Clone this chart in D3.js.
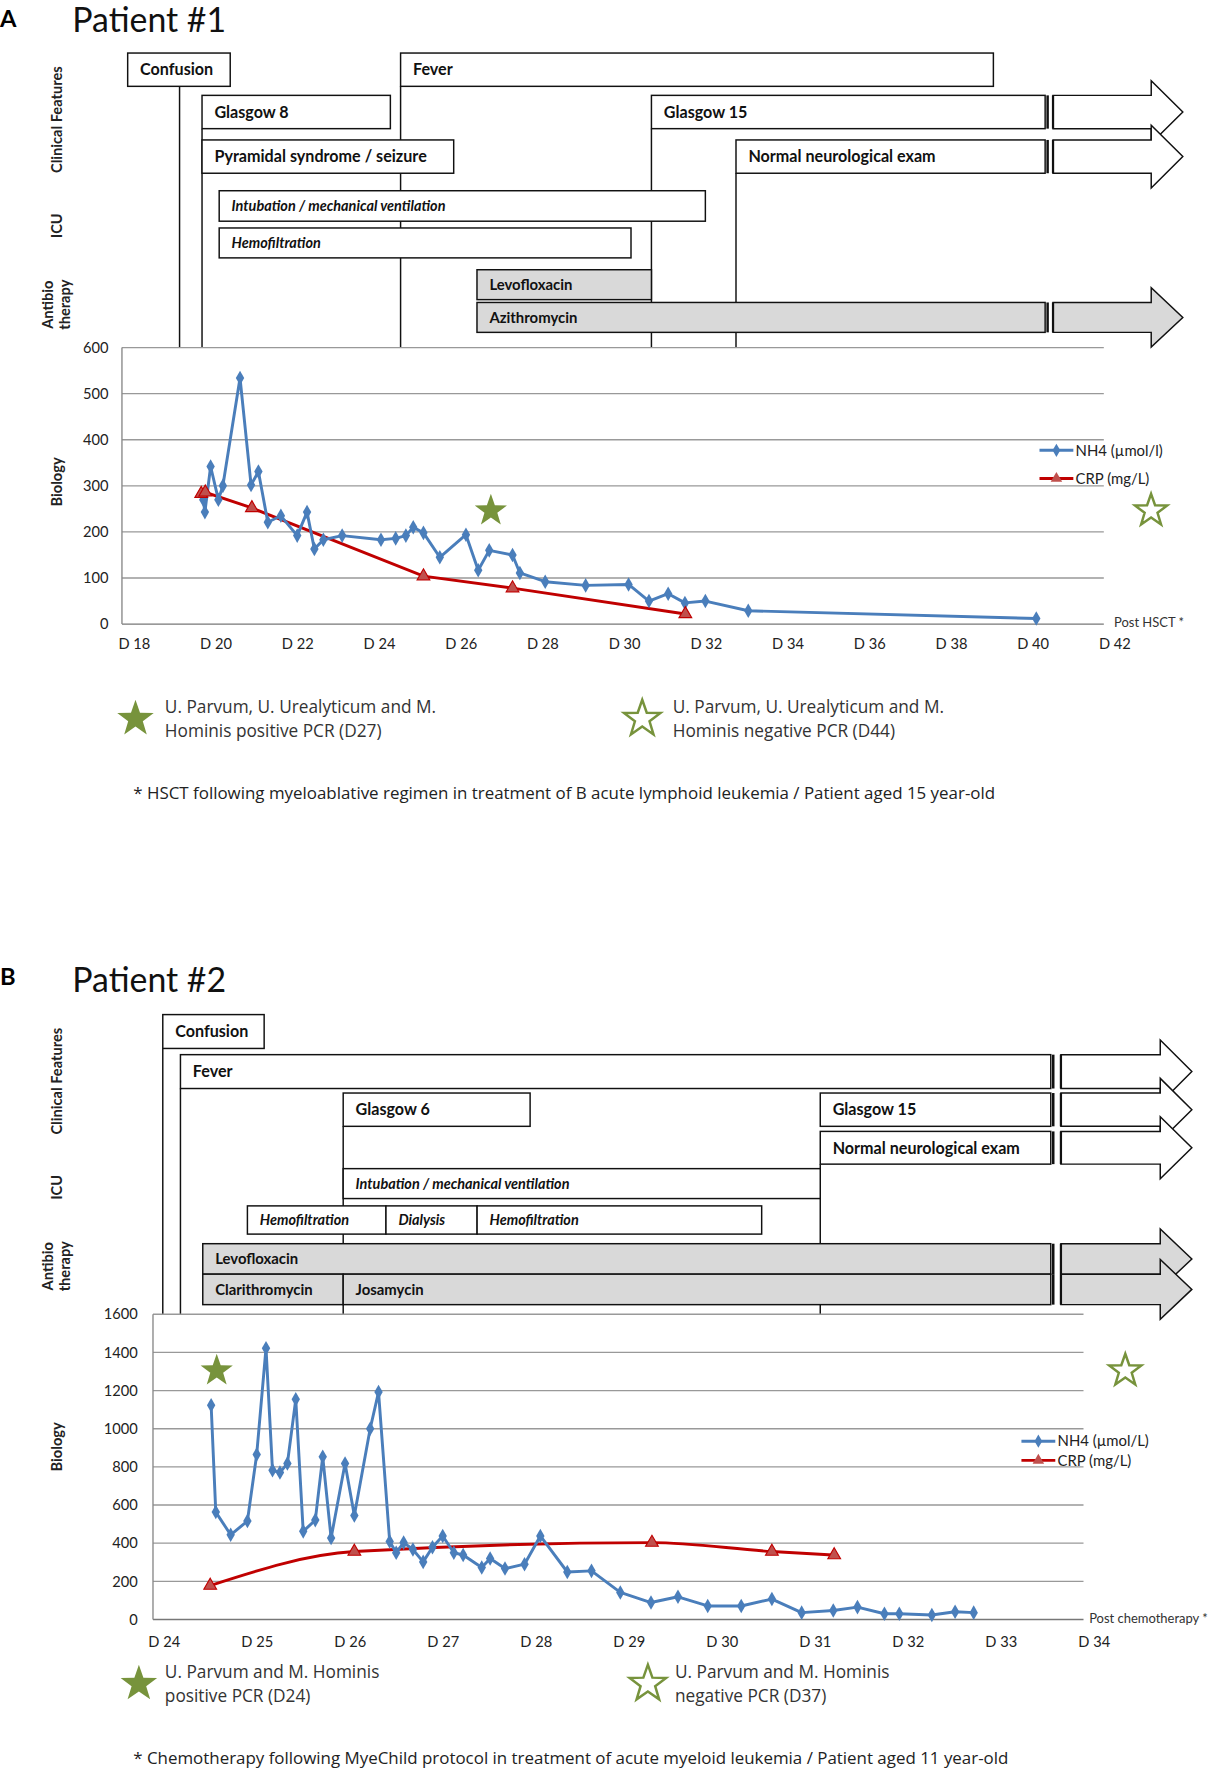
<!DOCTYPE html>
<html><head><meta charset="utf-8">
<script src="https://cdn.jsdelivr.net/npm/d3@7/dist/d3.min.js"></script>
<style>
body{margin:0;background:#fff}
svg{display:block}
text{font-family:Lato,"Open Sans","DejaVu Sans",sans-serif}
</style></head>
<body>
<svg id="c" width="1219" height="1773" viewBox="0 0 1080 1571"></svg>
<script>
// ===================== DATA =====================
// Patient 1
const p1XTicks = [18,20,22,24,26,28,30,32,34,36,38,40,42];
const p1YTicks = [0,100,200,300,400,500,600];
const p1NH4Days = [19.70,19.74,19.88,20.07,20.18,20.60,20.87,21.05,21.28,21.60,22.00,22.24,22.42,22.64,23.10,24.05,24.41,24.66,24.84,25.09,25.49,26.13,26.43,26.70,27.27,27.45,28.07,29.06,30.11,30.61,31.08,31.49,31.99,33.04,40.09];
const p1NH4 = [270,243,342,270,300,534,302,331,221,235,192,243,163,183,192,183,186,192,210,198,145,194,117,160,150,111,92,84,86,50,66,46,50,29,12];
const p1CRPDays = [19.65,19.75,20.89,25.09,27.27,31.50];
const p1CRP = [283,286,252,104,78,22];
const p1Legend = ["NH4 (µmol/l)","CRP (mg/L)"];
const p1Events = [
  {label:"Confusion", start:17.85, end:20.36, row:0, kind:"clin"},
  {label:"Fever", start:24.53, end:39.04, row:0, kind:"clin"},
  {label:"Glasgow 8", start:19.67, end:24.28, row:1, kind:"clin"},
  {label:"Glasgow 15", start:30.67, end:null, row:1, kind:"clin"},
  {label:"Pyramidal syndrome / seizure", start:19.67, end:25.83, row:2, kind:"clin"},
  {label:"Normal neurological exam", start:32.74, end:null, row:2, kind:"clin"},
  {label:"Intubation / mechanical ventilation", start:20.09, end:31.99, row:3, kind:"icu"},
  {label:"Hemofiltration", start:20.09, end:30.17, row:4, kind:"icu"},
  {label:"Levofloxacin", start:26.40, end:30.67, row:5, kind:"abx"},
  {label:"Azithromycin", start:26.40, end:null, row:6, kind:"abx"}
];
const p1Connectors = [{day:19.12,row:0},{day:19.67,row:1},{day:24.53,row:0},{day:30.67,row:1},{day:32.74,row:2}];
const p1PCR = [{day:26.74, value:246, positive:true},{day:42.90, value:246, positive:false}];
const p1PCRText = [["U. Parvum, U. Urealyticum and M.","Hominis positive PCR (D27)"],["U. Parvum, U. Urealyticum and M.","Hominis negative PCR (D44)"]];
const p1Footnote = "* HSCT following myeloablative regimen in treatment of B acute lymphoid leukemia / Patient aged 15 year-old";

// Patient 2
const p2XTicks = [24,25,26,27,28,29,30,31,32,33,34];
const p2YTicks = [0,200,400,600,800,1000,1200,1400,1600];
const p2NH4Days = [24.51,24.56,24.72,24.90,25.00,25.10,25.17,25.25,25.33,25.42,25.50,25.63,25.71,25.80,25.95,26.05,26.22,26.31,26.43,26.50,26.58,26.68,26.79,26.89,27.00,27.12,27.22,27.42,27.51,27.67,27.88,28.05,28.34,28.60,28.91,29.24,29.53,29.85,30.21,30.54,30.86,31.20,31.46,31.75,31.91,32.26,32.51,32.71];
const p2NH4 = [1123,563,444,516,865,1422,782,770,818,1154,462,521,853,427,818,545,1000,1192,409,350,403,367,302,379,438,350,338,273,320,267,290,438,249,255,142,89,119,71,71,107,36,47,65,30,30,24,41,36];
const p2CRPDays = [24.50,26.05,29.25,30.54,31.21];
const p2CRP = [178,356,403,356,338];
const p2Legend = ["NH4 (µmol/L)","CRP (mg/L)"];
const p2Events = [
  {label:"Confusion", start:23.99, end:25.08, row:0, kind:"clin"},
  {label:"Fever", start:24.18, end:null, row:1, kind:"clin"},
  {label:"Glasgow 6", start:25.93, end:27.94, row:2, kind:"clin"},
  {label:"Glasgow 15", start:31.06, end:null, row:2, kind:"clin"},
  {label:"Normal neurological exam", start:31.06, end:null, row:3, kind:"clin"},
  {label:"Intubation / mechanical ventilation", start:25.93, end:31.06, row:4, kind:"icu"},
  {label:"Hemofiltration", start:24.90, end:26.39, row:5, kind:"icu"},
  {label:"Dialysis", start:26.39, end:27.37, row:5, kind:"icu"},
  {label:"Hemofiltration", start:27.37, end:30.43, row:5, kind:"icu"},
  {label:"Levofloxacin", start:24.42, end:null, row:6, kind:"abx"},
  {label:"Clarithromycin", start:24.42, end:25.93, row:7, kind:"abx"},
  {label:"Josamycin", start:25.93, end:null, row:7, kind:"abx"}
];
const p2Connectors = [{day:23.99,row:0},{day:24.18,row:1},{day:25.93,row:2},{day:31.06,row:3}];
const p2PCR = [{day:24.57, value:1304, positive:true},{day:34.34, value:1304, positive:false}];
const p2PCRText = [["U. Parvum and M. Hominis","positive PCR (D24)"],["U. Parvum and M. Hominis","negative PCR (D37)"]];
const p2Footnote = "* Chemotherapy following MyeChild protocol in treatment of acute myeloid leukemia / Patient aged 11 year-old";

// ===================== LAYOUT =====================
const L1 = {
  letter:"A", title:"Patient #1", letterY:24, titleY:28.5,
  rows:[[47,29.5],[84.5,29.5],[124,29.5],[169,27],[202,26.5],[239,26.5],[268,26.5]],
  rowLabels:[{t:["Clinical Features"],y:106},{t:["ICU"],y:200},{t:["Antibio","therapy"],y:270},{t:["Biology"],y:427}],
  xDomain:[18,42], xRange:[118.5,987.3], yDomain:[0,600],
  plotTop:308, plotBottom:553, plotLeft:108, plotRight:978,
  yLabelRight:96, xLabelY:579,
  breakX:926, arrowStart:933, tipX:1048, headLen:28, headExt:13,
  legendX:921, legendY:[399,424], endLabel:"Post HSCT *", endLabelX:987,
  pcrY:637, pcrX:[120,569], pcrTextX:[146,596], footY:708, starR:15
};
const L2 = {
  letter:"B", title:"Patient #2", letterY:873, titleY:879,
  rows:[[899,30],[934.5,30],[968.5,29.5],[1002.5,29],[1035.5,26.5],[1068.5,25],[1102,27],[1129,27]],
  rowLabels:[{t:["Clinical Features"],y:958},{t:["ICU"],y:1052},{t:["Antibio","therapy"],y:1122},{t:["Biology"],y:1282}],
  xDomain:[24,34], xRange:[145,969], yDomain:[0,1600],
  plotTop:1164.5, plotBottom:1435, plotLeft:135.5, plotRight:960,
  yLabelRight:122, xLabelY:1463,
  breakX:931, arrowStart:940, tipX:1056, headLen:28, headExt:13,
  legendX:905, legendY:[1277,1294], endLabel:"Post chemotherapy *", endLabelX:965,
  pcrY:1492, pcrX:[123,574], pcrTextX:[146,598], footY:1563, starR:15
};

const svg = d3.select("#c");
const GREEN = "#77933c", BLUE = "#4a7ebb", RED = "#c00000";
const NOTE_FONT = "'Open Sans', Lato, sans-serif";

function starPath(cx, cy, R){
  const pts = [];
  for(let i=0;i<10;i++){
    const r = i%2 ? R*0.4 : R;
    const a = -Math.PI/2 + i*Math.PI/5;
    pts.push([cx + r*Math.cos(a), cy + r*Math.sin(a)]);
  }
  return "M" + pts.map(p=>p[0].toFixed(2)+","+p[1].toFixed(2)).join("L") + "Z";
}

function drawPanel(L, ev, conn, nh4Days, nh4, crpDays, crp, xTicks, yTicks, legend, pcr, pcrText, foot, crpCurve){
  const g = svg.append("g");
  const x = d3.scaleLinear().domain(L.xDomain).range(L.xRange);
  const y = d3.scaleLinear().domain(L.yDomain).range([L.plotBottom, L.plotTop]);

  // heading
  g.append("text").attr("x",0).attr("y",L.letterY).attr("font-size",21).attr("font-weight","bold").text(L.letter);
  g.append("text").attr("x",64).attr("y",L.titleY).attr("font-size",30).attr("fill","#111").text(L.title);

  // row labels
  L.rowLabels.forEach(r=>{
    const n = r.t.length;
    r.t.forEach((t,i)=>{
      const xx = 50 + (i-(n-1)/2)*15;
      g.append("text").attr("transform",`translate(${xx},${r.y}) rotate(-90)`)
        .attr("text-anchor","middle").attr("dy","0.35em")
        .attr("font-size",13).attr("font-weight","bold").attr("fill","#222").text(t);
    });
  });

  // connectors
  conn.forEach(c=>{
    const r = L.rows[c.row];
    g.append("line").attr("x1",x(c.day)).attr("x2",x(c.day))
      .attr("y1",r[0]+r[1]).attr("y2",L.plotTop)
      .attr("stroke","#111").attr("stroke-width",1.3);
  });

  // timeline boxes (in row order so later rows sit on top)
  const sorted = ev.slice().sort((a,b)=>a.row-b.row);
  sorted.forEach(e=>{
    const [top,h] = L.rows[e.row];
    const bot = top+h, mid = top+h/2;
    const fill = e.kind==="abx" ? "#d9d9d9" : "#fff";
    const x0 = x(e.start);
    if(e.end!==null){
      g.append("rect").attr("x",x0).attr("y",top).attr("width",x(e.end)-x0).attr("height",h)
        .attr("fill",fill).attr("stroke","#111").attr("stroke-width",1.3);
    } else {
      g.append("rect").attr("x",x0).attr("y",top).attr("width",L.breakX-x0).attr("height",h)
        .attr("fill",fill).attr("stroke","#111").attr("stroke-width",1.3);
      g.append("line").attr("x1",L.breakX+2.2).attr("x2",L.breakX+2.2).attr("y1",top).attr("y2",bot)
        .attr("stroke","#111").attr("stroke-width",2.2);
      const hs = L.tipX - L.headLen, a = L.arrowStart;
      const pts = [[a,top],[hs,top],[hs,top-L.headExt],[L.tipX,mid],[hs,bot+L.headExt],[hs,bot],[a,bot]];
      g.append("path").attr("d","M"+pts.map(p=>p.join(",")).join("L")+"Z")
        .attr("fill",fill).attr("stroke","#111").attr("stroke-width",1.3).attr("stroke-linejoin","miter");
      g.append("line").attr("x1",a).attr("x2",a).attr("y1",top).attr("y2",bot)
        .attr("stroke","#111").attr("stroke-width",2);
    }
    const t = g.append("text").attr("x",x0+11).attr("y",mid).attr("dy","0.36em")
      .attr("font-weight","bold").attr("fill","#111").text(e.label);
    if(e.kind==="icu") t.attr("font-style","italic").attr("font-size",12.8);
    else if(e.kind==="abx") t.attr("font-size",13.2);
    else t.attr("font-size",14.3);
  });

  // gridlines
  g.append("g").selectAll("line").data(yTicks).join("line")
    .attr("x1",L.plotLeft).attr("x2",L.plotRight).attr("y1",d=>y(d)).attr("y2",d=>y(d))
    .attr("stroke",d=>d===0?"#777":"#999").attr("stroke-width",1.2);
  g.append("line").attr("x1",L.plotLeft).attr("x2",L.plotLeft).attr("y1",L.plotTop).attr("y2",L.plotBottom)
    .attr("stroke","#888").attr("stroke-width",1.2);

  // y axis labels
  const ya = d3.axisLeft(y).tickValues(yTicks).tickSize(0).tickPadding(L.plotLeft-L.yLabelRight).tickFormat(d3.format("d"));
  const yg = g.append("g").attr("transform",`translate(${L.plotLeft},0)`).call(ya);
  yg.select(".domain").remove();
  yg.selectAll("text").attr("font-size",13).attr("fill","#222").style("font-family","Lato, 'Open Sans', sans-serif");

  // x axis labels
  const xa = d3.axisBottom(x).tickValues(xTicks).tickSize(0).tickPadding(0).tickFormat(d=>"D "+d);
  const xg = g.append("g").attr("transform",`translate(0,${L.xLabelY-13})`).call(xa);
  xg.select(".domain").remove();
  xg.selectAll("text").attr("font-size",13).attr("fill","#222").style("font-family","Lato, 'Open Sans', sans-serif");

  g.append("text").attr("x",L.endLabelX).attr("y",L.plotBottom+3).attr("font-size",11.5).attr("fill","#333").text(L.endLabel);

  // series
  const nh4Pts = nh4Days.map((d,i)=>[x(d),y(nh4[i])]);
  const crpPts = crpDays.map((d,i)=>[x(d),y(crp[i])]);
  g.append("path").attr("d",d3.line().curve(crpCurve)(crpPts)).attr("fill","none")
    .attr("stroke",RED).attr("stroke-width",2.6);
  g.append("path").attr("d",d3.line()(nh4Pts)).attr("fill","none")
    .attr("stroke",BLUE).attr("stroke-width",2.6).attr("stroke-linejoin","round");
  g.append("g").selectAll("path").data(nh4Pts).join("path")
    .attr("transform",d=>`translate(${d[0]},${d[1]})`)
    .attr("d",d3.symbol(d3.symbolDiamond,48)).attr("fill",BLUE);
  g.append("g").selectAll("path").data(crpPts).join("path")
    .attr("transform",d=>`translate(${d[0]},${d[1]})`)
    .attr("d",d3.symbol(d3.symbolTriangle,55)).attr("fill","#c0504d").attr("stroke",RED).attr("stroke-width",1);

  // legend
  const lc = [BLUE, RED];
  legend.forEach((name,i)=>{
    const ly = L.legendY[i];
    g.append("line").attr("x1",L.legendX).attr("x2",L.legendX+30).attr("y1",ly).attr("y2",ly)
      .attr("stroke",lc[i]).attr("stroke-width",2.6);
    g.append("path").attr("transform",`translate(${L.legendX+15},${ly})`)
      .attr("d",d3.symbol(i===0?d3.symbolDiamond:d3.symbolTriangle,i===0?40:45))
      .attr("fill",i===0?BLUE:"#c0504d");
    g.append("text").attr("x",L.legendX+32).attr("y",ly).attr("dy","0.35em")
      .attr("font-size",13.2).attr("fill","#222").text(name);
  });

  // PCR stars in plot
  pcr.forEach(p=>{
    g.append("path").attr("d",starPath(x(p.day),y(p.value),L.starR))
      .attr("fill",p.positive?GREEN:"#fff").attr("stroke",GREEN).attr("stroke-width",p.positive?0:2.2);
  });

  // notes below
  pcr.forEach((p,i)=>{
    g.append("path").attr("d",starPath(L.pcrX[i],L.pcrY,17))
      .attr("fill",p.positive?GREEN:"#fff").attr("stroke",GREEN).attr("stroke-width",p.positive?0:2.2);
    pcrText[i].forEach((t,j)=>{
      g.append("text").attr("x",L.pcrTextX[i]).attr("y",L.pcrY-5+j*21).attr("font-size",15.3)
        .style("font-family",NOTE_FONT).attr("fill","#333").text(t);
    });
  });
  g.append("text").attr("x",118).attr("y",L.footY).attr("font-size",15).style("font-family",NOTE_FONT)
    .attr("fill","#222").text(foot);
}

drawPanel(L1, p1Events, p1Connectors, p1NH4Days, p1NH4, p1CRPDays, p1CRP, p1XTicks, p1YTicks, p1Legend, p1PCR, p1PCRText, p1Footnote, d3.curveLinear);
drawPanel(L2, p2Events, p2Connectors, p2NH4Days, p2NH4, p2CRPDays, p2CRP, p2XTicks, p2YTicks, p2Legend, p2PCR, p2PCRText, p2Footnote, d3.curveMonotoneX);
</script>
</body></html>
